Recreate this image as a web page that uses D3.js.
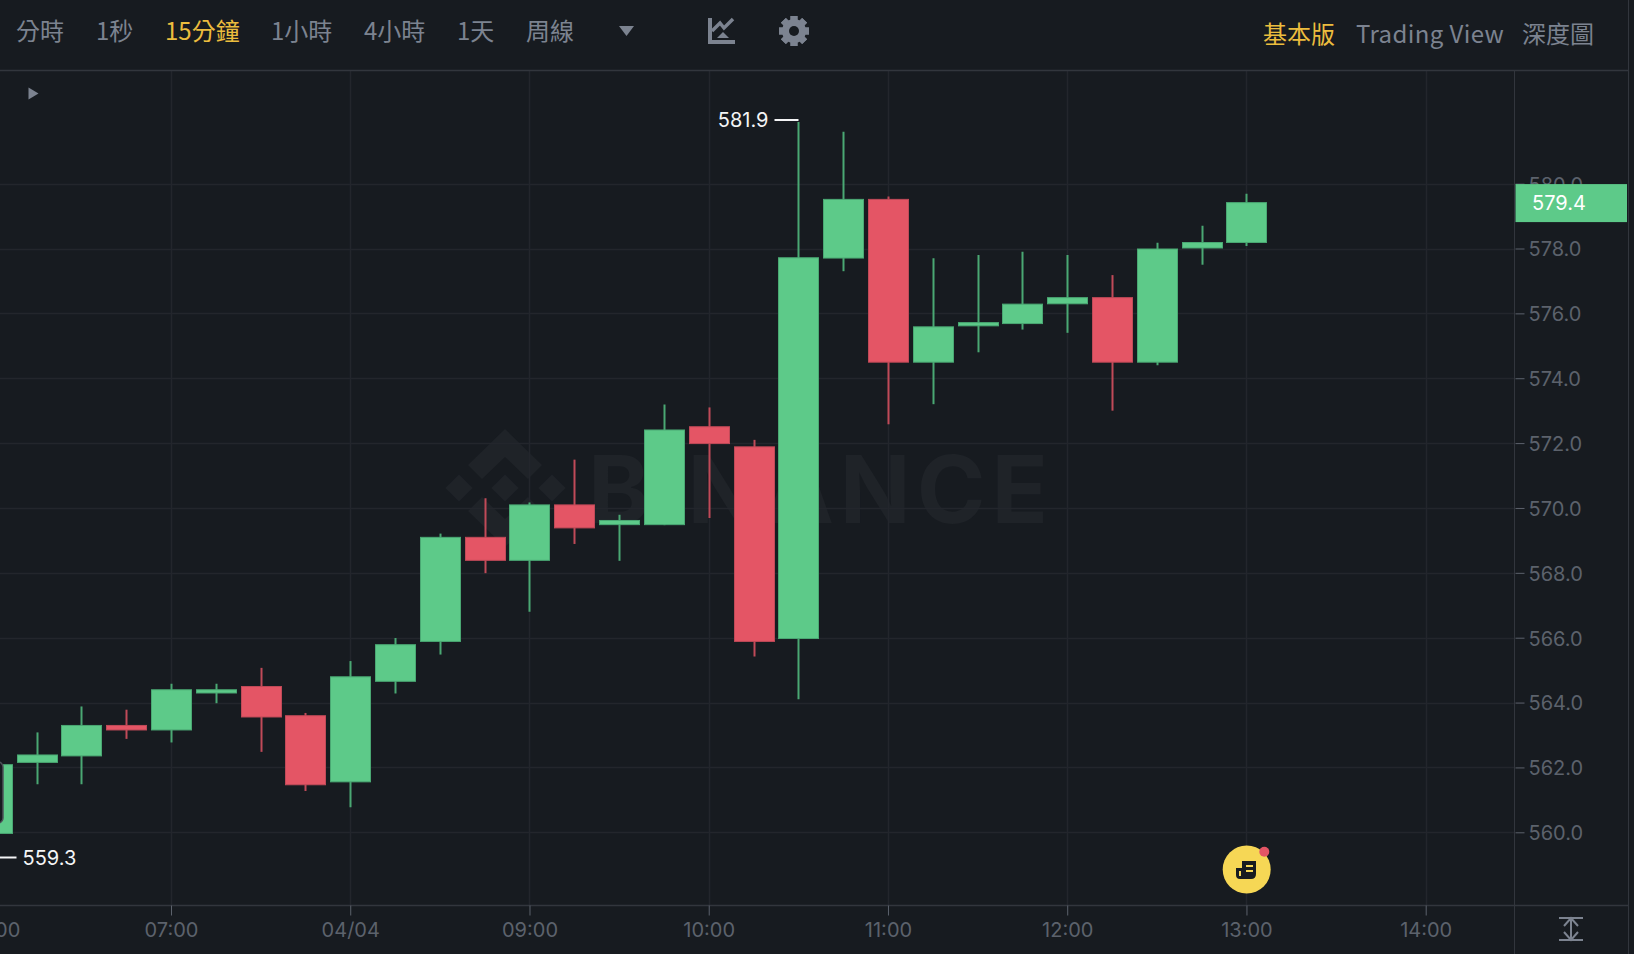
<!DOCTYPE html>
<html>
<head>
<meta charset="utf-8">
<script src="https://cdn.jsdelivr.net/npm/d3@7"></script>
<style>
    html, body { margin: 0; padding: 0; background: #171b20; overflow: hidden; }
    svg { display: block; }
    .nav { font-family: "Noto Sans CJK TC", "Noto Sans", sans-serif; font-size: 24px; }
    .tick-label { font-family: Inter, "Liberation Sans", sans-serif; font-size: 20px; fill: #5c626c; }
</style>
</head>
<body>
<div id="chart"></div>
<script>
// CONFIGURATION
const width = 1634;
const height = 954;
const axisX = 1514.5;    // ligne verticale de l'axe des prix
const axisY = 905.5;     // ligne horizontale de l'axe du temps
const headerY = 70.5;
const candleWidth = 41;

const COLORS = {
    bg: '#171b20',
    grid: '#23262c',
    axis: '#32363d',
    up: '#5dca89',
    upEdge: '#4aa873',
    down: '#e45565',
    downEdge: '#c04a58',
    nav: '#7c8390',
    active: '#ecbd3e',
    white: '#f4f5f6',
    mark: '#1f2328'
};

// DATA
const times = ['06:00', '06:15', '06:30', '06:45', '07:00', '07:15', '07:30', '07:45', '08:00', '08:15',
    '08:30', '08:45', '09:00', '09:15', '09:30', '09:45', '10:00', '10:15', '10:30', '10:45',
    '11:00', '11:15', '11:30', '11:45', '12:00', '12:15', '12:30', '12:45', '13:00'];
const opens = [559.95, 562.14, 562.34, 563.31, 563.14, 564.28, 564.51, 563.61, 561.54, 564.64,
    565.87, 569.11, 568.37, 570.11, 569.47, 569.47, 572.52, 571.9, 565.96, 577.69,
    579.53, 574.48, 575.6, 575.67, 576.28, 576.5, 574.48, 578.0, 578.17];
const closes = [562.1, 562.4, 563.31, 563.14, 564.41, 564.41, 563.54, 561.45, 564.81, 565.8,
    569.11, 568.37, 570.11, 569.37, 569.63, 572.42, 571.97, 565.87, 577.73, 579.53,
    574.48, 575.6, 575.73, 576.3, 576.5, 574.48, 578.0, 578.2, 579.43];
const highs = [562.1, 563.08, 563.88, 563.78, 564.58, 564.58, 565.07, 563.68, 565.28, 565.99,
    569.21, 570.3, 570.17, 571.49, 569.79, 573.19, 573.1, 572.1, 581.9, 581.6,
    579.6, 577.7, 577.8, 577.9, 577.8, 577.18, 578.18, 578.7, 579.69];
const lows = [559.3, 561.48, 561.48, 562.88, 562.77, 563.98, 562.48, 561.27, 560.77, 564.28,
    565.48, 567.99, 566.8, 568.89, 568.37, 569.47, 569.69, 565.42, 564.1, 577.3,
    572.58, 573.2, 574.8, 575.5, 575.4, 573.0, 574.4, 577.5, 578.08];
const priceTicks = [560, 562, 564, 566, 568, 570, 572, 574, 576, 578, 580];
const timeTicks = ['06:00', '07:00', '08:00', '09:00', '10:00', '11:00', '12:00', '13:00', '14:00'];
const timeLabels = ['06:00', '07:00', '04/04', '09:00', '10:00', '11:00', '12:00', '13:00', '14:00'];
const lastPrice = 579.4;
const navItems = ['分時', '1秒', '15分鐘', '1小時', '4小時', '1天', '周線'];
const navStarts = [16, 96, 165, 271, 364, 457, 526];
const rightItems = ['基本版', 'Trading View', '深度圖'];

// SCALES
const toMinutes = t => { const p = t.split(':'); return +p[0] * 60 + +p[1]; };
const x = d3.scaleLinear().domain([420, 840]).range([171, 1425.7]);
const y = d3.scaleLinear().domain([560, 578]).range([832.3, 248.5]);

const svg = d3.select('#chart').append('svg')
    .attr('width', width)
    .attr('height', height);

svg.append('rect').attr('width', width).attr('height', height).attr('fill', COLORS.bg);

// CLIP zone du graphique
svg.append('clipPath').attr('id', 'plot').append('rect')
    .attr('x', 0).attr('y', headerY).attr('width', axisX).attr('height', axisY - headerY);

// WATERMARK
const mark = svg.append('g').attr('fill', COLORS.mark);
mark.append('text')
    .attr('x', 588).attr('y', 523)
    .attr('font-family', 'Inter, "Liberation Sans", sans-serif')
    .attr('font-weight', 700)
    .attr('font-size', 93)
    .attr('textLength', 460)
    .text('BINANCE');
const logo = mark.append('g').attr('transform', 'translate(505,488)');
[[0, 0], [-46, 0], [47, 0]].forEach(c => {
    logo.append('path').attr('d', `M${c[0]},-13.5 L${c[0] + 13.7},0 L${c[0]},13.5 L${c[0] - 13.7},0 Z`);
});
logo.append('path').attr('d', 'M0,-59 L37,-23 L23,-9 L0,-31 L-23,-9 L-37,-23 Z');
logo.append('path').attr('d', 'M0,59 L37,23 L23,9 L0,31 L-23,9 L-37,23 Z');

// GRID
const grid = svg.append('g').attr('clip-path', 'url(#plot)');
grid.selectAll('line.h').data(priceTicks).join('line')
    .attr('class', 'h')
    .attr('x1', 0).attr('x2', axisX)
    .attr('y1', d => Math.round(y(d)) + 0.5).attr('y2', d => Math.round(y(d)) + 0.5)
    .attr('stroke', COLORS.grid)
    .attr('stroke-width', 1.5);
grid.selectAll('line.v').data(timeTicks).join('line')
    .attr('class', 'v')
    .attr('x1', d => Math.round(x(toMinutes(d))) + 0.5).attr('x2', d => Math.round(x(toMinutes(d))) + 0.5)
    .attr('y1', headerY).attr('y2', axisY)
    .attr('stroke', COLORS.grid)
    .attr('stroke-width', 1.5);

// CANDLES
const candles = svg.append('g').attr('clip-path', 'url(#plot)')
    .selectAll('g').data(times).join('g');
const isUp = i => closes[i] >= opens[i];
const midX = d => Math.round(x(toMinutes(d))) + 0.5;

candles.append('line')
    .attr('x1', midX).attr('x2', midX)
    .attr('y1', (d, i) => y(highs[i])).attr('y2', (d, i) => y(lows[i]))
    .attr('stroke', (d, i) => isUp(i) ? COLORS.upEdge : COLORS.downEdge)
    .attr('stroke-width', 2);
candles.append('rect')
    .attr('x', d => midX(d) - candleWidth / 2 + 0.5)
    .attr('width', candleWidth - 1)
    .attr('y', (d, i) => y(Math.max(opens[i], closes[i])) + 0.5)
    .attr('height', (d, i) => Math.abs(y(opens[i]) - y(closes[i])) - 1)
    .attr('fill', (d, i) => isUp(i) ? COLORS.up : COLORS.down)
    .attr('stroke', (d, i) => isUp(i) ? COLORS.upEdge : COLORS.downEdge);

// Cadre arrondi au bord gauche, par-dessus la premiere bougie
svg.append('rect')
    .attr('x', -12).attr('y', 762).attr('width', 15).attr('height', 61).attr('rx', 5)
    .attr('fill', COLORS.bg).attr('stroke', '#4c5158').attr('stroke-width', 1.5);

// HIGH / LOW MARKERS
const hiIndex = d3.maxIndex(highs);
const loIndex = d3.minIndex(lows);
const hiX = midX(times[hiIndex]);
const loX = midX(times[loIndex]);
svg.append('line')
    .attr('x1', hiX - 24).attr('x2', hiX)
    .attr('y1', 120).attr('y2', 120)
    .attr('stroke', COLORS.white).attr('stroke-width', 2);
svg.append('text')
    .attr('x', hiX - 30).attr('y', 127)
    .attr('text-anchor', 'end')
    .attr('font-family', 'Inter, "Liberation Sans", sans-serif').attr('font-size', 20)
    .attr('fill', COLORS.white)
    .text(highs[hiIndex].toFixed(1));
svg.append('line')
    .attr('x1', 0).attr('x2', loX + 24)
    .attr('y1', 857.5).attr('y2', 857.5)
    .attr('stroke', COLORS.white).attr('stroke-width', 2);
svg.append('text')
    .attr('x', loX + 30).attr('y', 864.5)
    .attr('font-family', 'Inter, "Liberation Sans", sans-serif').attr('font-size', 20)
    .attr('fill', COLORS.white)
    .text(lows[loIndex].toFixed(1));

// AXIS LINES
svg.append('line').attr('x1', 0).attr('x2', 1628).attr('y1', headerY).attr('y2', headerY).attr('stroke', COLORS.axis).attr('stroke-width', 1.5);
svg.append('line').attr('x1', 0).attr('x2', 1628).attr('y1', axisY).attr('y2', axisY).attr('stroke', COLORS.axis).attr('stroke-width', 1.5);
svg.append('line').attr('x1', axisX).attr('x2', axisX).attr('y1', headerY).attr('y2', height).attr('stroke', COLORS.axis);
svg.append('line').attr('x1', 1628.5).attr('x2', 1628.5).attr('y1', 0).attr('y2', height).attr('stroke', COLORS.axis);

// PRICE AXIS
const yAxis = d3.axisRight(y).tickValues(priceTicks).tickSize(9).tickPadding(4).tickFormat(d3.format('.1f'));
const yAxisG = svg.append('g').attr('transform', `translate(${axisX + 1},0)`).call(yAxis);
yAxisG.select('.domain').remove();
yAxisG.selectAll('.tick line').attr('stroke', '#5c626c');
yAxisG.selectAll('.tick text').attr('class', 'tick-label').attr('y', 1);

// TIME AXIS
const xAxis = d3.axisBottom(x)
    .tickValues(timeTicks.map(toMinutes))
    .tickSize(10).tickPadding(7)
    .tickFormat((d, i) => timeLabels[i]);
const xAxisG = svg.append('g').attr('transform', `translate(0,${axisY})`).call(xAxis);
xAxisG.select('.domain').remove();
xAxisG.selectAll('.tick line').attr('stroke', '#5c626c');
xAxisG.selectAll('.tick text').attr('class', 'tick-label');

// LAST PRICE LABEL
svg.append('rect')
    .attr('x', axisX + 1).attr('width', 1627 - axisX - 1)
    .attr('y', y(lastPrice) - 19).attr('height', 38)
    .attr('fill', COLORS.up);
svg.append('text')
    .attr('x', 1532).attr('y', y(lastPrice) + 7)
    .attr('font-family', 'Inter, "Liberation Sans", sans-serif').attr('font-size', 20)
    .attr('fill', '#ffffff')
    .text(lastPrice.toFixed(1));

// NAV
svg.selectAll('text.left').data(navItems).join('text')
    .attr('class', 'left nav')
    .attr('x', (d, i) => navStarts[i])
    .attr('y', 40)
    .attr('fill', d => d === '15分鐘' ? COLORS.active : COLORS.nav)
    .text(d => d);
const rightStarts = [1263, 1356, 1522];
svg.selectAll('text.right').data(rightItems).join('text')
    .attr('class', 'right nav')
    .attr('x', (d, i) => rightStarts[i])
    .attr('y', 43)
    .attr('letter-spacing', (d, i) => i === 1 ? 0.4 : 0)
    .attr('fill', (d, i) => i === 0 ? COLORS.active : COLORS.nav)
    .text(d => d);

// ICONES
svg.append('path').attr('d', 'M619,26 L634,26 L626.5,36 Z').attr('fill', COLORS.nav);
svg.append('path').attr('d', 'M28.5,87.5 L38.5,93.5 L28.5,99.5 Z').attr('fill', COLORS.nav);
svg.append('path').attr('d', 'M710,18 V42 H735').attr('fill', 'none').attr('stroke', COLORS.nav).attr('stroke-width', 4);
svg.append('path').attr('d', 'M712,31 L720,23 L724,28 L733,19').attr('fill', 'none').attr('stroke', COLORS.nav).attr('stroke-width', 3.5);
svg.append('path').attr('d', 'M723,32 L729,38 H717 Z').attr('fill', COLORS.nav);
const gear = svg.append('g').attr('transform', 'translate(794,31)');
d3.range(8).forEach(i => {
    gear.append('rect').attr('x', -3.5).attr('y', -15).attr('width', 7).attr('height', 30)
        .attr('fill', COLORS.nav).attr('transform', `rotate(${i * 45})`);
});
gear.append('circle').attr('r', 12).attr('fill', COLORS.nav);
gear.append('circle').attr('r', 5).attr('fill', COLORS.bg);

// BOUTON JAUNE
svg.append('circle').attr('cx', 1246.7).attr('cy', 869.5).attr('r', 24).attr('fill', '#f6d755');
svg.append('circle').attr('cx', 1264.3).attr('cy', 851.7).attr('r', 5).attr('fill', '#e45565');
svg.append('path').attr('d', 'M1236,868 H1242 V861 H1256 V874 Q1256,879 1251,879 H1240 Q1236,879 1236,875 Z').attr('fill', COLORS.bg);
svg.append('path').attr('d', 'M1246,866 H1253 M1246,871 H1253 M1240,871 V876').attr('stroke', '#f6d755').attr('stroke-width', 2);

// ICONE AUTO-ECHELLE
svg.append('path')
    .attr('d', 'M1559,918 H1583 M1559,940 H1583 M1571,918 V940 M1564,926 L1571,918 L1578,926 M1564,932 L1571,940 L1578,932')
    .attr('fill', 'none').attr('stroke', COLORS.nav).attr('stroke-width', 2);
</script>
</body>
</html>
